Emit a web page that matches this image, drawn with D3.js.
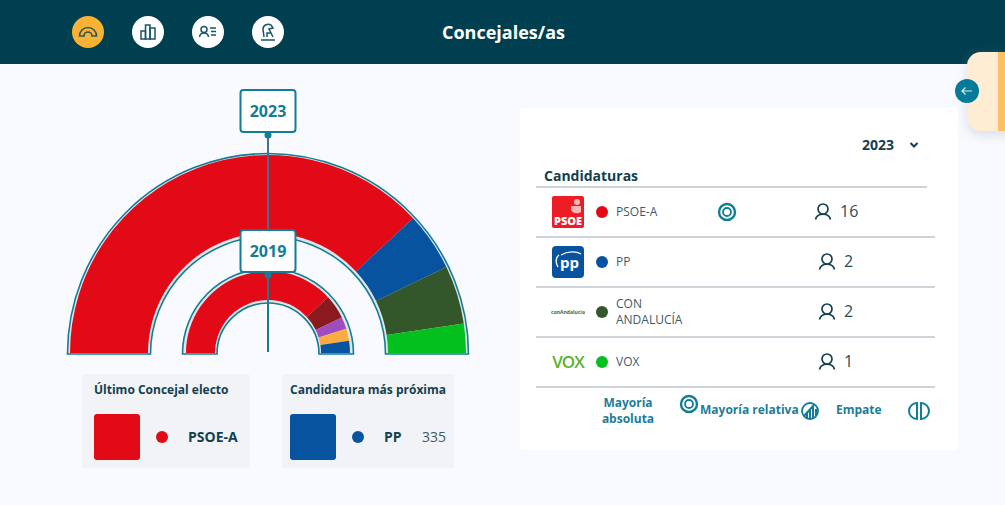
<!DOCTYPE html>
<html>
<head>
<meta charset="utf-8" />
<title>Concejales/as</title>
<script src="https://d3js.org/d3.v7.min.js"></script>
<style>
    body { margin: 0; background: #f8faff; overflow: hidden; }
    text { font-family: "Open Sans", "Noto Sans", sans-serif; }
</style>
</head>
<body>
<script>
// seats per party, one list per election
var parties2023 = ["PSOE-A", "PP", "CON ANDALUCÍA", "VOX"];
var seats2023 = [16, 2, 2, 1];
var parties2019 = ["PSOE-A", "AxSí", "Cs", "IU", "PP"];
var seats2019 = [16, 2, 1, 1, 1];
var years = ["2023", "2019"];
var closest = ["PSOE-A", "PP"];
var closestVotes = 335;

var color = d3.scaleOrdinal()
    .domain(["PSOE-A", "PP", "CON ANDALUCÍA", "VOX", "AxSí", "Cs", "IU"])
    .range(["#e20a16", "#07539f", "#34562b", "#04c01f", "#8b1a1e", "#a04cc0", "#fbab3f"]);

var navy = "#003f50", teal = "#117d96", ink = "#13404f", soft = "#3f5a66";
var cx = 268, cy = 353;

var svg = d3.select("body").append("svg")
    .attr("width", 1005)
    .attr("height", 505)
    .style("display", "block");

var defs = svg.append("defs");
var shadow = defs.append("filter").attr("id", "shadow")
    .attr("x", "-30%").attr("y", "-30%").attr("width", "160%").attr("height", "160%");
shadow.append("feDropShadow")
    .attr("dx", 0).attr("dy", 4).attr("stdDeviation", 6)
    .attr("flood-color", "#8a96a8").attr("flood-opacity", 0.3);

svg.append("rect").attr("width", 1005).attr("height", 505).attr("fill", "#f8faff");

// header
svg.append("rect").attr("width", 1005).attr("height", 64).attr("fill", navy);
svg.append("text").attr("x", 503.5).attr("y", 39)
    .attr("text-anchor", "middle").attr("font-size", 18).attr("font-weight", 700)
    .attr("fill", "#fff").text("Concejales/as");

function navIcon(x, fill) {
    var g = svg.append("g").attr("transform", "translate(" + x + ",32)");
    g.append("circle").attr("r", 16).attr("fill", fill);
    return g.append("g").attr("fill", "none").attr("stroke", "#17566a").attr("stroke-width", 1.5);
}
var nav1 = navIcon(88, "#f9b233");
nav1.attr("stroke", "#2b5a52").attr("stroke-width", 1.6);
nav1.append("path").attr("d", d3.arc().innerRadius(4).outerRadius(8.5).startAngle(-Math.PI / 2).endAngle(Math.PI / 2)()).attr("transform", "translate(0,4)");
var nav2 = navIcon(148, "#fff");
nav2.append("rect").attr("x", -7).attr("y", -1).attr("width", 4.5).attr("height", 8);
nav2.append("rect").attr("x", -2.5).attr("y", -7).attr("width", 4.5).attr("height", 14);
nav2.append("rect").attr("x", 2).attr("y", -4).attr("width", 5).attr("height", 11);
var nav3 = navIcon(208, "#fff");
nav3.append("circle").attr("cx", -4).attr("cy", -2.5).attr("r", 3);
nav3.append("path").attr("d", "M-8.5,5 C-8,-0.5 0,-0.5 0.5,5");
nav3.append("path").attr("d", "M2,-4H8M3,-0.5H8M3,3H8");
var nav4 = navIcon(268, "#fff");
nav4.append("path").attr("d", "M-4,5 L-5,-3 C-5,-7 0,-9 3,-7 L5,-4 L1,-3 L5,5");
nav4.append("path").attr("d", "M-7,8H7M-1,5 L-1,1 L3,1");

// the two half rings
var pie = d3.pie().sort(null).value(function(d) { return d; })
    .startAngle(-Math.PI / 2).endAngle(Math.PI / 2);

function drawRing(parties, seats, outer, inner, frameOuter, frameInner) {
    var frame = svg.append("g").attr("transform", "translate(" + cx + "," + (cy + 1) + ")");
    frame.append("path")
        .attr("d", d3.arc().innerRadius(frameInner).outerRadius(frameOuter)
            .startAngle(-Math.PI / 2).endAngle(Math.PI / 2)())
        .attr("fill", "#dfe6ea")
        .attr("stroke", teal)
        .attr("stroke-width", 1.6);
    var g = svg.append("g").attr("transform", "translate(" + cx + "," + cy + ")");
    g.selectAll("path.slice")
        .data(pie(seats))
        .enter().append("path")
        .attr("class", "slice")
        .attr("d", d3.arc().innerRadius(inner).outerRadius(outer))
        .attr("fill", function(d, i) { return color(parties[i]); });
}
drawRing(parties2023, seats2023, 198, 120, 200.5, 117.5);
drawRing(parties2019, seats2019, 82, 53, 85.5, 51);

// year markers
function drawMarker(label, top, lineEnd, lineColor) {
    svg.append("line").attr("x1", cx).attr("x2", cx)
        .attr("y1", top + 43).attr("y2", lineEnd)
        .attr("stroke", lineColor).attr("stroke-width", 2);
    svg.append("circle").attr("cx", cx).attr("cy", top + 45).attr("r", 3.5).attr("fill", teal);
    svg.append("rect").attr("x", cx - 27.5).attr("y", top).attr("width", 55).attr("height", 42)
        .attr("rx", 3).attr("fill", "#fff").attr("stroke", teal).attr("stroke-width", 2);
    svg.append("text").attr("x", cx).attr("y", top + 27)
        .attr("text-anchor", "middle").attr("font-size", 16).attr("font-weight", 700)
        .attr("fill", teal).text(label);
}
drawMarker(years[0], 90, 232, "#46708a");
drawMarker(years[1], 230, 352, "#1f7890");

// small cards under the chart
function drawSmallCard(x, w, title, party, votes) {
    svg.append("rect").attr("x", x).attr("y", 374).attr("width", w).attr("height", 94)
        .attr("rx", 3).attr("fill", "#f1f3f6");
    var sx = x + (w > 170 ? 8 : 12);
    svg.append("text").attr("x", sx).attr("y", 394)
        .attr("font-size", 12).attr("font-weight", 700).attr("fill", ink).text(title);
    svg.append("rect").attr("x", sx).attr("y", 414).attr("width", 46).attr("height", 46)
        .attr("rx", 3).attr("fill", color(party));
    svg.append("circle").attr("cx", sx + 68).attr("cy", 437).attr("r", 6).attr("fill", color(party));
    svg.append("text").attr("x", sx + 94).attr("y", 442)
        .attr("font-size", 14).attr("font-weight", 700).attr("fill", ink).text(party);
    if (votes) {
        svg.append("text").attr("x", x + w - 8).attr("y", 442).attr("text-anchor", "end")
            .attr("font-size", 14).attr("fill", soft).text(votes);
    }
}
drawSmallCard(82, 168, "Último Concejal electo", closest[0]);
drawSmallCard(282, 172, "Candidatura más próxima", closest[1], closestVotes);

// side tab
svg.append("rect").attr("x", 520).attr("y", 108).attr("width", 438).attr("height", 342)
    .attr("rx", 4).attr("fill", "#fff");
var tabClip = defs.append("clipPath").attr("id", "tabClip");
tabClip.append("rect").attr("x", 967).attr("y", 52).attr("width", 60).attr("height", 79).attr("rx", 14);
svg.append("rect").attr("x", 967).attr("y", 52).attr("width", 60).attr("height", 79)
    .attr("rx", 14).attr("fill", "#feedd3").attr("filter", "url(#shadow)");
svg.append("rect").attr("x", 998).attr("y", 52).attr("width", 7).attr("height", 79)
    .attr("fill", "#fcc063").attr("clip-path", "url(#tabClip)");
svg.append("circle").attr("cx", 967).attr("cy", 91).attr("r", 12).attr("fill", "#067a98");
svg.append("path").attr("d", "M972,91H962M965.5,87.5L962,91L965.5,94.5")
    .attr("fill", "none").attr("stroke", "#dcebf0").attr("stroke-width", 1.2);

// table card
svg.append("text").attr("x", 862).attr("y", 150)
    .attr("font-size", 14).attr("font-weight", 700).attr("fill", ink).text(years[0]);
svg.append("path").attr("d", "M910.5,143L914,146.5L917.5,143")
    .attr("fill", "none").attr("stroke", ink).attr("stroke-width", 2);
svg.append("text").attr("x", 544).attr("y", 181)
    .attr("font-size", 14).attr("font-weight", 700).attr("fill", ink).text("Candidaturas");

var rowY = d3.scalePoint().domain(parties2023).range([212, 362]);
var lineYs = [187, 237, 287, 337, 387];
svg.selectAll("line.row").data(lineYs).enter().append("line")
    .attr("class", "row")
    .attr("x1", 536).attr("x2", function(d, i) { return i ? 935 : 927; })
    .attr("y1", function(d) { return d; }).attr("y2", function(d) { return d; })
    .attr("stroke", "#bcc5cc").attr("stroke-width", 1.6);

parties2023.forEach(function(p, i) {
    var y = rowY(p);
    svg.append("circle").attr("cx", 602).attr("cy", y).attr("r", 6).attr("fill", color(p));
    if (p == "CON ANDALUCÍA") {
        svg.append("text").attr("x", 616).attr("y", y - 4).attr("font-size", 12).attr("fill", soft).text("CON");
        svg.append("text").attr("x", 616).attr("y", y + 12).attr("font-size", 12).attr("fill", soft).text("ANDALUCÍA");
    } else {
        svg.append("text").attr("x", 616).attr("y", y + 4).attr("font-size", 12).attr("fill", soft).text(p);
    }
    // person icon and seat count
    var px = i == 0 ? 823 : 827;
    var person = svg.append("g").attr("transform", "translate(" + px + "," + (y - 0.5) + ")")
        .attr("fill", "none").attr("stroke", ink).attr("stroke-width", 1.7);
    person.append("circle").attr("cy", -2.5).attr("r", 5);
    person.append("path").attr("d", "M-7.5,8 C-6,1 6,1 7.5,8");
    svg.append("text").attr("x", px + 17).attr("y", y + 5)
        .attr("font-size", 16).attr("fill", "#2b4c59").text(seats2023[i]);
});

// logos
svg.append("rect").attr("x", 552).attr("y", 196).attr("width", 32).attr("height", 32).attr("rx", 2).attr("fill", "#ee1c25");
svg.append("circle").attr("cx", 577).attr("cy", 202).attr("r", 3).attr("fill", "#f8b6b8");
svg.append("path").attr("d", "M571,206 H581 V212 C578,214 573,214 571,210 Z").attr("fill", "#f8b6b8");
svg.append("text").attr("x", 568).attr("y", 225).attr("text-anchor", "middle")
    .attr("font-size", 11).attr("font-weight", 800).attr("fill", "#fff").text("PSOE");
svg.append("rect").attr("x", 552).attr("y", 246).attr("width", 32).attr("height", 32).attr("rx", 4).attr("fill", "#07539f");
svg.append("text").attr("x", 569.5).attr("y", 268).attr("text-anchor", "middle")
    .attr("font-size", 15).attr("font-weight", 700).attr("fill", "#fff").text("pp");
svg.append("path").attr("d", "M558,267 C555,262 556,257 559,255 M561,255 C568,251 576,251 581,254")
    .attr("fill", "none").attr("stroke", "#fff").attr("stroke-width", 1.4);
svg.append("text").attr("x", 568).attr("y", 314).attr("text-anchor", "middle")
    .attr("font-size", 5).attr("font-weight", 700).attr("fill", "#3f6b2c").text("conAndalucía");
svg.append("text").attr("x", 568).attr("y", 368).attr("text-anchor", "middle")
    .attr("font-size", 17).attr("font-weight", 600).attr("letter-spacing", -1).attr("fill", "#5cb230").text("VOX");

// majority icon in the PSOE row
function rings(x, y, r) {
    svg.append("circle").attr("cx", x).attr("cy", y).attr("r", r).attr("fill", "none").attr("stroke", teal).attr("stroke-width", 2.4);
    svg.append("circle").attr("cx", x).attr("cy", y).attr("r", r - 4).attr("fill", "none").attr("stroke", teal).attr("stroke-width", 1.8);
}
rings(727, 212, 8);

// legend
var legendStyle = function(sel) {
    sel.attr("font-size", 12).attr("font-weight", 700).attr("fill", "#1c7d97");
};
svg.append("text").attr("x", 628).attr("y", 407).attr("text-anchor", "middle").call(legendStyle).text("Mayoría");
svg.append("text").attr("x", 628).attr("y", 423).attr("text-anchor", "middle").call(legendStyle).text("absoluta");
rings(689, 404, 8);
svg.append("text").attr("x", 700).attr("y", 414).call(legendStyle).text("Mayoría relativa");
svg.append("circle").attr("cx", 810).attr("cy", 411).attr("r", 8).attr("fill", "none").attr("stroke", teal).attr("stroke-width", 1.8);
svg.append("path").attr("d", "M804,416 L814,405 M807,418 V413 M810,418.500 V410 M813,418 V407 M816,416 V409")
    .attr("fill", "none").attr("stroke", teal).attr("stroke-width", 2);
svg.append("text").attr("x", 836).attr("y", 414).call(legendStyle).text("Empate");
svg.append("path").attr("d", "M917,403 A8,8 0 0 0 917,419 Z M921,403 A8,8 0 0 1 921,419 Z")
    .attr("fill", "none").attr("stroke", teal).attr("stroke-width", 2);
</script>
</body>
</html>
